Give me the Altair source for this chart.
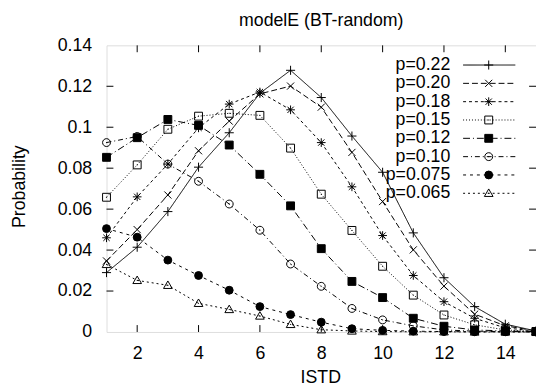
import altair as alt
import pandas as pd

# ---------------- data ----------------
istd = list(range(1, 16))
labels = ["p=0.22", "p=0.20", "p=0.18", "p=0.15", "p=0.12", "p=0.10", "p=0.075", "p=0.065"]

p022 = [0.0290, 0.0414, 0.0588, 0.0805, 0.0973, 0.1166, 0.1278, 0.1145, 0.0957, 0.0780, 0.0484, 0.0265, 0.0124, 0.0038, 0.0005]
p020 = [0.0347, 0.0500, 0.0669, 0.0885, 0.1030, 0.1163, 0.1201, 0.1098, 0.0877, 0.0637, 0.0401, 0.0224, 0.0087, 0.0030, 0.0005]
p018 = [0.0460, 0.0660, 0.0820, 0.0997, 0.1113, 0.1172, 0.1085, 0.0925, 0.0709, 0.0471, 0.0276, 0.0148, 0.0067, 0.0020, 0.0004]
p015 = [0.0658, 0.0816, 0.0990, 0.1054, 0.1068, 0.1058, 0.0898, 0.0673, 0.0496, 0.0321, 0.0180, 0.0083, 0.0035, 0.0010, 0.0002]
p012 = [0.0853, 0.0949, 0.1038, 0.1009, 0.0913, 0.0770, 0.0616, 0.0407, 0.0247, 0.0168, 0.0067, 0.0028, 0.0010, 0.0005, 0.0002]
p010 = [0.0925, 0.0955, 0.0820, 0.0736, 0.0625, 0.0497, 0.0332, 0.0223, 0.0115, 0.0059, 0.0030, 0.0010, 0.0004, 0.0002, 0.0001]
p0075 = [0.0505, 0.0463, 0.0351, 0.0276, 0.0204, 0.0124, 0.0085, 0.0048, 0.0016, 0.0008, 0.0004, 0.0002, 0.0001, 0.0001, 0.0000]
p0065 = [0.0330, 0.0252, 0.0228, 0.0140, 0.0110, 0.0078, 0.0037, 0.0011, 0.0005, 0.0002, 0.0001, 0.0001, 0.0000, 0.0000, 0.0000]
series = [p022, p020, p018, p015, p012, p010, p0075, p0065]

x_ticks = [2, 4, 6, 8, 10, 12, 14]
y_labels = [0, 0.02, 0.04, 0.06, 0.08, 0.1, 0.12, 0.14]
y_ticks = [0.02, 0.04, 0.06, 0.08, 0.1, 0.12]

rows = []
for k, (lab, vals) in enumerate(zip(labels, series)):
    for x, v in zip(istd, vals):
        rows.append({"series": lab, "istd": x, "prob": v, "k": k})
df = pd.DataFrame(rows)

# ---------------- styling ----------------
W, H = 436, 291
FONT = "Liberation Sans"
TICK = 7

PLUS = "M-1.15,0H1.15M0,-1.15V1.15"
XMARK = "M-0.9,-0.9L0.9,0.9M-0.9,0.9L0.9,-0.9"
AST = "M-1.1,0H1.1M0,-1.1V1.1M-0.8,-0.8L0.8,0.8M-0.8,0.8L0.8,-0.8"
OSQ = "M-1,-1H1V1H-1ZM-0.12,0H0.12"
OCI = "M1,0A1,1,0,1,1,-1,0A1,1,0,1,1,1,0ZM-0.12,0H0.12"
OTR = "M0,-1.1L1.1,0.8H-1.1ZM-0.12,0H0.12"
shapes = [PLUS, XMARK, AST, OSQ, "square", OCI, "circle", OTR]
fills = ["transparent", "transparent", "transparent", "transparent", "black", "transparent", "black", "transparent"]
dashes = [[1, 0], [6, 3], [3, 3], [1, 2], [7, 3, 1, 3], [5, 3, 1, 3], [3, 4], [2, 3]]

shape_scale = alt.Scale(domain=labels, range=shapes)
fill_scale = alt.Scale(domain=labels, range=fills)
dash_scale = alt.Scale(domain=labels, range=dashes)
x_scale = alt.Scale(domain=[1, 15], nice=False, zero=False)
y_scale = alt.Scale(domain=[0, 0.14], nice=False)

x_axis = alt.Axis(values=x_ticks, title="ISTD", grid=False, domain=False, ticks=False, tickSize=0,
                  labelFont=FONT, labelFontSize=18, labelColor="black", labelPadding=27,
                  labelBaseline="alphabetic", titleFont=FONT, titleFontSize=18, titleFontWeight="normal",
                  titleColor="black", titleX=217, titleY=51, titleBaseline="alphabetic")
y_axis = alt.Axis(values=y_labels, format="~g", title="Probability", grid=False, domain=False, ticks=False,
                  tickSize=0, labelFont=FONT, labelFontSize=18, labelColor="black", labelPadding=15,
                  titleFont=FONT, titleFontSize=18, titleFontWeight="normal", titleColor="black",
                  titleX=-88, titleY=143, titleAngle=270, titleAlign="center", titleBaseline="middle")

base = alt.Chart(df)

lines = base.mark_line(color="black", strokeWidth=1).encode(
    x=alt.X("istd:Q", scale=x_scale, axis=x_axis),
    y=alt.Y("prob:Q", scale=y_scale, axis=y_axis),
    strokeDash=alt.StrokeDash("series:N", scale=dash_scale, legend=None),
)

points = base.mark_point(filled=False, color="black", opacity=1, strokeWidth=1, size=64).encode(
    x=alt.X("istd:Q", scale=x_scale),
    y=alt.Y("prob:Q", scale=y_scale),
    shape=alt.Shape("series:N", scale=shape_scale, legend=None),
    fill=alt.Fill("series:N", scale=fill_scale, legend=None),
)

# inward tick marks on all four sides (gnuplot style)
xt = alt.Chart(pd.DataFrame({"istd": x_ticks}))
yt = alt.Chart(pd.DataFrame({"prob": y_ticks}))
tick_b = xt.mark_rule(color="black", strokeWidth=1).encode(
    x=alt.X("istd:Q", scale=x_scale), y=alt.value(H), y2=alt.value(H - TICK))
tick_t = xt.mark_rule(color="black", strokeWidth=1).encode(
    x=alt.X("istd:Q", scale=x_scale), y=alt.value(0), y2=alt.value(TICK))
tick_l = yt.mark_rule(color="black", strokeWidth=1).encode(
    y=alt.Y("prob:Q", scale=y_scale), x=alt.value(0), x2=alt.value(TICK))
tick_r = yt.mark_rule(color="black", strokeWidth=1).encode(
    y=alt.Y("prob:Q", scale=y_scale), x=alt.value(W), x2=alt.value(W - TICK))

# manual legend (top right, inside plot)
ROW0, STEP = 20, 18.6
leg = alt.Chart(pd.DataFrame({"series": labels, "i": list(range(len(labels)))})).transform_calculate(
    prob=f"0.14 - ({ROW0} + {STEP} * datum.i) * 0.14 / {H}"
)
leg_text = leg.mark_text(align="right", baseline="middle", font=FONT, fontSize=18, color="black").encode(
    x=alt.value(349), y=alt.Y("prob:Q", scale=y_scale), text="series:N")
leg_rule = leg.mark_rule(color="black", strokeWidth=1).encode(
    x=alt.value(362), x2=alt.value(415), y=alt.Y("prob:Q", scale=y_scale),
    strokeDash=alt.StrokeDash("series:N", scale=dash_scale, legend=None))
leg_pt = leg.mark_point(filled=False, color="black", opacity=1, strokeWidth=1, size=64).encode(
    x=alt.value(388), y=alt.Y("prob:Q", scale=y_scale),
    shape=alt.Shape("series:N", scale=shape_scale, legend=None),
    fill=alt.Fill("series:N", scale=fill_scale, legend=None))

chart = alt.layer(
    tick_b, tick_t, tick_l, tick_r, lines, points, leg_text, leg_rule, leg_pt
).properties(
    width=W, height=H,
    title=alt.TitleParams("modelE (BT-random)", font=FONT, fontSize=18, fontWeight="normal",
                          color="black", anchor="middle", offset=9, dy=16, baseline="alphabetic"),
    autosize=alt.AutoSizeParams(type="none"),
    padding={"left": 100, "top": 35, "right": 0, "bottom": 56},
).configure_view(stroke="black", strokeWidth=1).configure(background="white")

chart.save("out.html", embed_options={"renderer": "svg", "actions": False})
